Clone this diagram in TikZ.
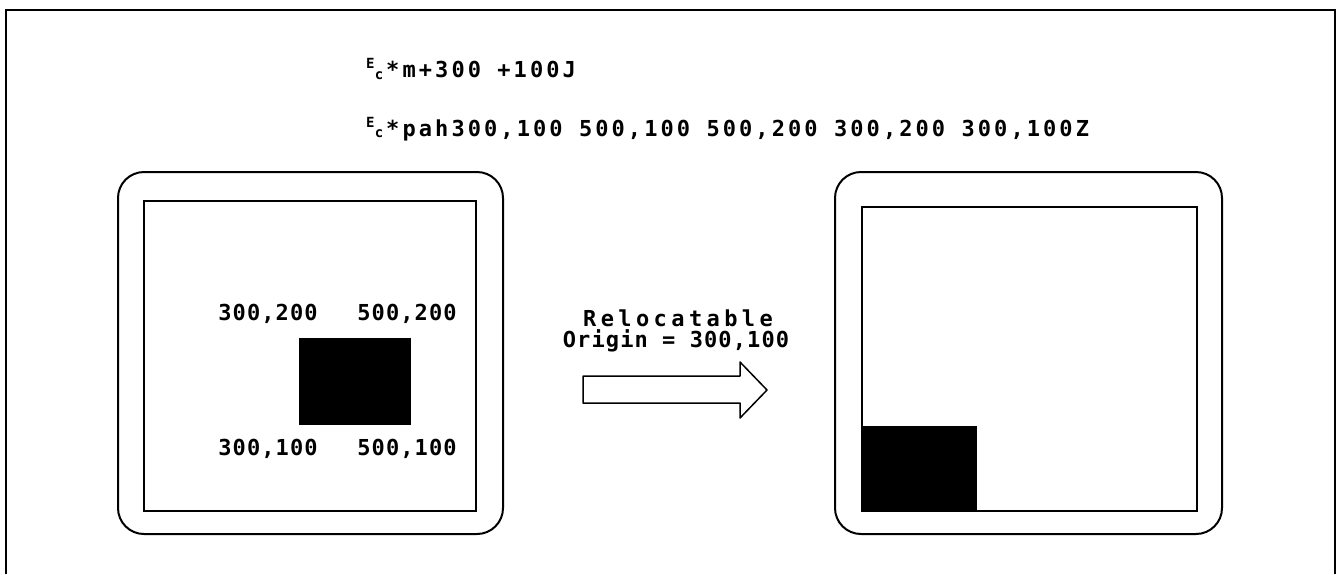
\documentclass[tikz,border=0pt]{standalone}
\usepackage{fontspec}
\newfontfamily\cmdfont[LetterSpace=14]{DejaVu Sans Mono}
\newfontfamily\coordfont[LetterSpace=5]{DejaVu Sans Mono}
\newfontfamily\wordfont[LetterSpace=20]{DejaVu Sans Mono}
\newcommand{\escsym}{\makebox[20pt][l]{\fontsize{14}{14}\selectfont\raisebox{0.6em}{E}\kern0.02em\raisebox{-0.12em}{c}}}

\tikzset{
  screen/.style={draw, line width=2pt, rounded corners=26pt},
  display/.style={draw, line width=2pt},
  cmdtext/.style={anchor=west, inner sep=0pt, font=\cmdfont\bfseries\fontsize{22}{22}\selectfont},
  coordtext/.style={inner sep=0pt, font=\coordfont\bfseries\fontsize{22}{22}\selectfont},
  wordtext/.style={inner sep=0pt, font=\wordfont\bfseries\fontsize{22}{22}\selectfont}
}

\begin{document}
\begin{tikzpicture}[x=1pt, y=-1pt]
  \useasboundingbox (0,0) rectangle (1337,574);

  % frame, open at the bottom
  \draw[line width=2.5pt] (6,574) -- (6,10) -- (1335,10) -- (1335,574);

  % commands
  \node[cmdtext] (move) at (366,69) {\escsym*m+300 +100J};
  \node[cmdtext] (poly) at (366,129) {\escsym*pah300,100 500,100 500,200 300,200 300,100Z};

  % left screen
  \draw[screen] (118,172) rectangle (503,534);
  \draw[display] (144,201) rectangle (476,511);
  \fill (299,338) rectangle (411,425);
  \node[coordtext] (ul) at (268,314) {300,200};
  \node[coordtext] (ur) at (407,314) {500,200};
  \node[coordtext] (ll) at (268,449) {300,100};
  \node[coordtext] (lr) at (407,449) {500,100};

  % relocation
  \node[wordtext] (reloc) at (678,318) {Relocatable};
  \node[coordtext] (origin) at (676,341) {Origin = 300,100};
  \draw[line width=1.5pt, line join=round]
    (583,376) -- (740,376) -- (740,362) -- (767,390) -- (740,418)
    -- (740,403) -- (583,403) -- cycle;

  % right screen
  \draw[screen] (835,172) rectangle (1222,534);
  \draw[display] (862,207) rectangle (1197,511);
  \fill (862,426) rectangle (977,511);
\end{tikzpicture}
\end{document}
